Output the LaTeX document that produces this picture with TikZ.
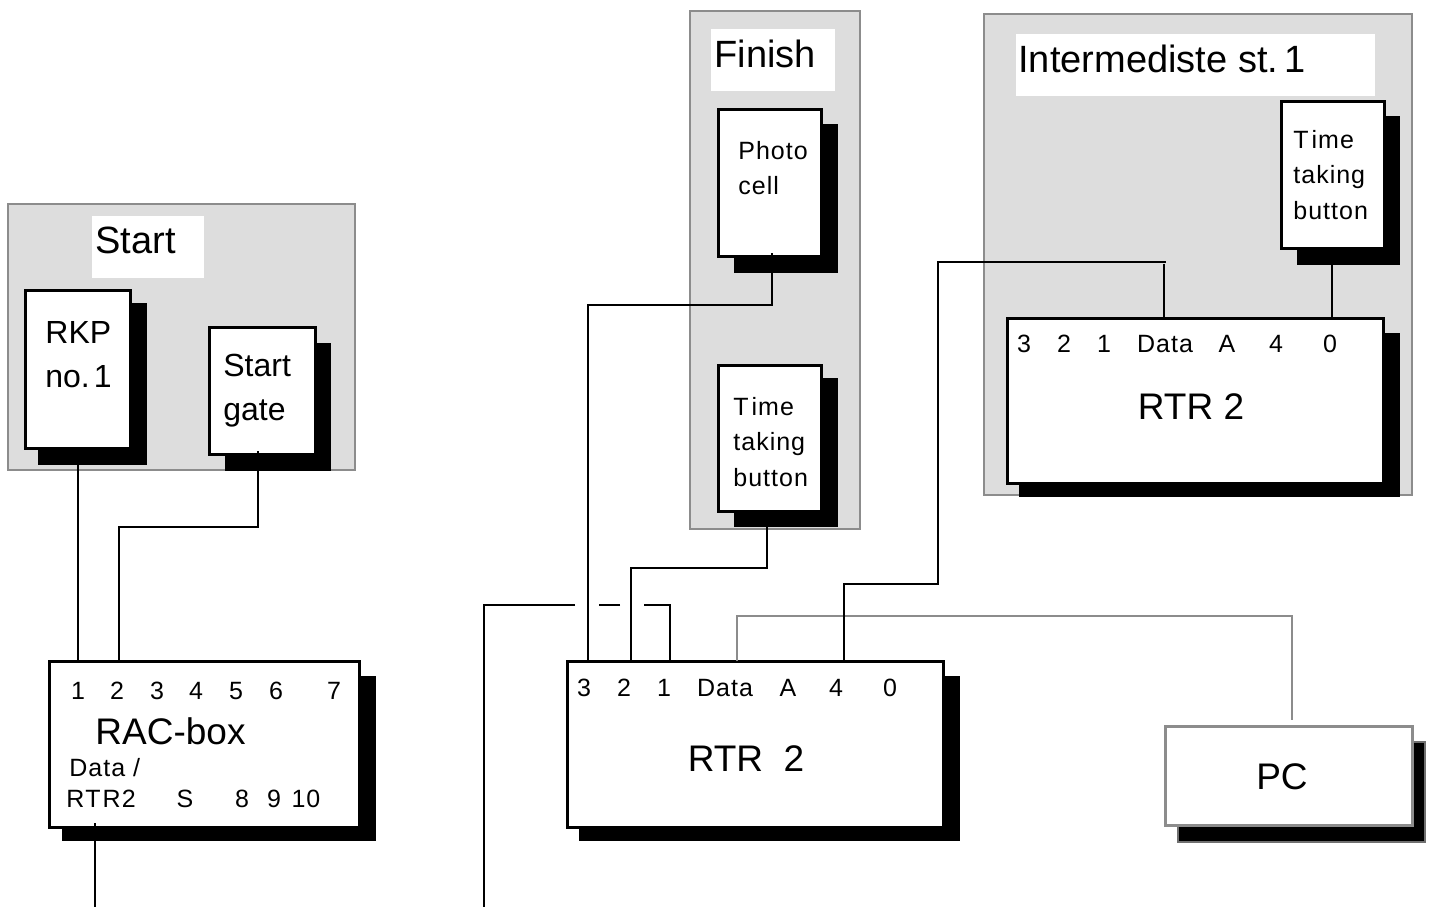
\documentclass[tikz,border=0pt]{standalone}
\usepackage{fontspec}
\setmainfont{Liberation Sans}
\newfontfamily\pinfont[LetterSpace=4]{Liberation Sans}
\definecolor{panelgray}{HTML}{DDDDDD}
\definecolor{edgegray}{HTML}{8C8C8C}
\usetikzlibrary{positioning}

\begin{document}
\begin{tikzpicture}[
  x=0.5pt, y=-0.5pt,
  boxsize/.style 2 args={minimum width=#1*0.5pt, minimum height=#2*0.5pt, inner sep=0pt, outer sep=0pt},
  panel/.style={draw=edgegray, fill=panelgray, line width=1.4pt},
  titlebox/.style={fill=white},
  shadowbox/.style={fill=black},
  unit/.style={draw=black, fill=white, line width=1.5pt},
  pcunit/.style={draw=edgegray, fill=white, line width=1.5pt},
  wire/.style={line width=1.4pt},
  graywire/.style={line width=1.4pt, draw=edgegray},
  bigtext/.style={font=\fontsize{19}{22}\selectfont, anchor=base west, inner sep=0pt},
  nametext/.style={font=\fontsize{18.5}{22}\selectfont, anchor=base, inner sep=0pt},
  midtext/.style={font=\fontsize{16}{22}\selectfont, anchor=west, align=left, inner sep=0pt},
  pin/.style={font=\pinfont\fontsize{12.5}{15}\selectfont, anchor=base, inner sep=0pt},
  smalltext/.style={font=\pinfont\fontsize{12.5}{17.6}\selectfont, anchor=west, align=left, inner sep=0pt}
]
\useasboundingbox (0,0) rectangle (1430,907);

\node[panel, boxsize={347}{266}] (startpanel) at (181.5,337) {};
\node[titlebox, boxsize={112}{62}] (starttitle) at (148,247) {};
\node[panel, boxsize={170}{518}] (finishpanel) at (775,270) {};
\node[titlebox, boxsize={124}{62}] (finishtitle) at (773,60) {};
\node[panel, boxsize={428}{481}] (interpanel) at (1198,254.5) {};
\node[titlebox, boxsize={359}{62}] (intertitle) at (1195,65) {};

\node[shadowbox, boxsize={109}{162}] (rkpshadow) at (92.5,384) {};
\node[unit, boxsize={105}{158}] (rkp) at (77.5,369) {};
\node[shadowbox, boxsize={106}{128}] (gateshadow) at (278,407) {};
\node[unit, boxsize={106}{127}] (gate) at (262,390.5) {};
\node[shadowbox, boxsize={314}{165}] (racshadow) at (219,758.5) {};
\node[unit, boxsize={310}{166}] (rac) at (204,744) {};
\node[shadowbox, boxsize={381}{165}] (rtrshadow) at (769.5,758.5) {};
\node[unit, boxsize={376}{166}] (rtr) at (755,744) {};
\node[shadowbox, draw=edgegray!80!black, line width=0.8pt, boxsize={247}{100}] (pcshadow) at (1301.5,792) {};
\node[pcunit, boxsize={247}{99}] (pc) at (1288.5,775.5) {};
\node[shadowbox, boxsize={104}{149}] (photoshadow) at (786,198.5) {};
\node[unit, boxsize={103}{147}] (photo) at (769.5,182.5) {};
\node[shadowbox, boxsize={104}{149}] (timeshadow) at (786,452.5) {};
\node[unit, boxsize={103}{146}] (time) at (769.5,438) {};
\node[shadowbox, boxsize={103}{149}] (intertimeshadow) at (1348.5,190.5) {};
\node[unit, boxsize={103}{147}] (intertime) at (1332.5,174.5) {};
\node[shadowbox, boxsize={381}{164}] (interrtrshadow) at (1209.5,415) {};
\node[unit, boxsize={376}{165}] (interrtr) at (1195,400.5) {};

\coordinate (rkpout) at (78,448);
\coordinate (gateout) at (258,451);
\coordinate (racone) at (78,661);
\coordinate (ractwo) at (119,663);
\coordinate (racout) at (95,823);
\coordinate (racend) at (95,907);
\coordinate (photoout) at (772,253);
\coordinate (timeout) at (767,511);
\coordinate (rtrthree) at (588,661);
\coordinate (rtrtwo) at (631,661);
\coordinate (rtrone) at (670,661);
\coordinate (rtrdata) at (737,661);
\coordinate (rtrfour) at (844,661);
\coordinate (gapa) at (644,605);
\coordinate (gapb) at (620,605);
\coordinate (gapc) at (599,605);
\coordinate (gapd) at (575,605);
\coordinate (farend) at (484,907);
\coordinate (pcin) at (1292,720);
\coordinate (interdatatop) at (1164,264);
\coordinate (interdata) at (1164,318);
\coordinate (interwire) at (1166,262);
\coordinate (intertimeout) at (1332,248);
\coordinate (interzero) at (1332,318);

\draw[wire] (rkpout) -- (racone);
\draw[wire] (gateout) -- ++(0,76) -| (ractwo);
\draw[wire] (racout) -- (racend);
\draw[wire] (photoout) -- ++(0,52) -| (rtrthree);
\draw[wire] (timeout) -- ++(0,57) -| (rtrtwo);
\draw[wire] (rtrone) |- (gapa);
\draw[wire] (gapb) -- (gapc);
\draw[wire] (gapd) -| (farend);
\draw[graywire] (rtrdata) -- ++(0,-45) -| (pcin);
\draw[wire] (rtrfour) -- ++(0,-77) -- ++(94,0) |- (interwire);
\draw[wire] (interdatatop) -- (interdata);
\draw[wire] (intertimeout) -- (interzero);

\node[bigtext] (startlabel) at (95,253) {Start};
\node[bigtext] (finishlabel) at (714,67) {Fini\kern-0.3pt sh};
\node[bigtext] (interlabel) at (1018,72) {Intermediste st.\kern-2pt\ 1};

\node[midtext] (rkptext) at (45,355) {RKP\\no.\kern2pt 1};
\node[midtext] (gatetext) at (223,391) {Start\\gate};
\node[smalltext] (phototext) at (738,168) {Photo\\cell};
\node[smalltext] (timetext) at (733,442) {T\kern1.5pt ime\\taking\\button};
\node[smalltext] (intertimetext) at (1293,175) {T\kern1.5pt ime\\taking\\button};

\node[pin] (racpina) at (78,699) {1};
\node[pin] (racpinb) at (117,699) {2};
\node[pin] (racpinc) at (157,699) {3};
\node[pin] (racpind) at (196,699) {4};
\node[pin] (racpine) at (236,699) {5};
\node[pin] (racpinf) at (276,699) {6};
\node[pin] (racping) at (334,699) {7};
\node[nametext] (racname) at (170.5,744) {RAC-box};
\node[smalltext, font=\pinfont\fontsize{12.5}{15.5}\selectfont] (racdata) at (66,783) {\kern1.5pt Data /\\R\kern0.5pt T\kern1pt R2};
\node[pin] (racpins) at (185,807) {S};
\node[pin] (racpinh) at (242,807) {8};
\node[pin] (racpini) at (274,807) {9};
\node[pin] (racpinj) at (306,807) {10};

\node[pin] (rtrpina) at (584,696) {3};
\node[pin] (rtrpinb) at (624,696) {2};
\node[pin] (rtrpinc) at (664,696) {1};
\node[pin] (rtrpind) at (725,696) {Data};
\node[pin] (rtrpine) at (788,696) {A};
\node[pin] (rtrpinf) at (836,696) {4};
\node[pin] (rtrping) at (890,696) {0};
\node[nametext] (rtrname) at (746,771) {RTR\ \ 2};

\node[pin] (interpina) at (1024,352) {3};
\node[pin] (interpinb) at (1064,352) {2};
\node[pin] (interpinc) at (1104,352) {1};
\node[pin] (interpind) at (1165,352) {Data};
\node[pin] (interpine) at (1227,352) {A};
\node[pin] (interpinf) at (1276,352) {4};
\node[pin] (interping) at (1330,352) {0};
\node[nametext] (intername) at (1191,419) {RTR 2};

\node[nametext] (pcname) at (1282,789) {PC};
\end{tikzpicture}
\end{document}
